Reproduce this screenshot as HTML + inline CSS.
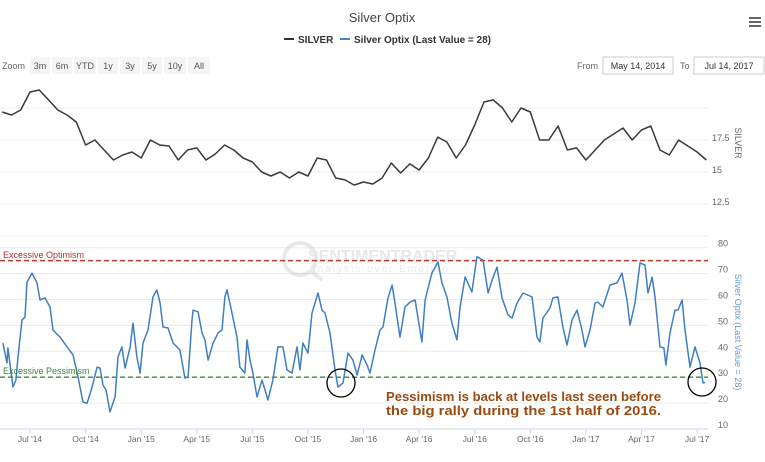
<!DOCTYPE html>
<html><head><meta charset="utf-8"><style>
body{margin:0;background:#fff;font-family:"Liberation Sans",sans-serif;}
svg text{font-family:"Liberation Sans",sans-serif;}
</style></head><body>
<svg id="chart" width="765" height="457" viewBox="0 0 765 457">
<text x="382" y="22" text-anchor="middle" font-size="13" fill="#444">Silver Optix</text>
<g><rect x="749" y="17" width="12" height="2" fill="#666"/><rect x="749" y="21" width="12" height="2" fill="#666"/><rect x="749" y="25" width="12" height="2" fill="#666"/></g>
<g><line x1="284" y1="39" x2="294" y2="39" stroke="#333" stroke-width="2"/><text x="298" y="43" font-size="10" font-weight="bold" fill="#333">SILVER</text></g>
<g><line x1="340" y1="39" x2="350" y2="39" stroke="#4a86c5" stroke-width="2"/><text x="354" y="43" font-size="10" font-weight="bold" fill="#333">Silver Optix (Last Value = 28)</text></g>
<text x="2" y="69" font-size="9" fill="#666">Zoom</text>
<g id="zoombtns"></g>
<text x="577" y="69" font-size="9" fill="#666">From</text>
<rect x="603" y="57" width="70" height="17" fill="#fff" stroke="#ccc"/>
<text x="638" y="69" font-size="9" text-anchor="middle" fill="#333">May 14, 2014</text>
<text x="680" y="69" font-size="9" fill="#666">To</text>
<rect x="694" y="57" width="70" height="17" fill="#fff" stroke="#ccc"/>
<text x="729" y="69" font-size="9" text-anchor="middle" fill="#333">Jul 14, 2017</text>
<g id="grid"></g>
<g opacity="0.22">
<circle cx="300" cy="259" r="16" fill="none" stroke="#999" stroke-width="4"/>
<line x1="311" y1="271" x2="322" y2="280" stroke="#999" stroke-width="4"/>
<text x="308" y="261" font-size="16" fill="#999" font-weight="bold">SENTIMENTRADER</text>
<text x="309" y="272" font-size="10" fill="#999" letter-spacing="2">Analysis over Emotion</text>
</g>
<g id="series"></g>
<text x="3" y="258" font-size="9" fill="#b03030">Excessive Optimism</text>
<text x="3" y="374" font-size="9" fill="#3a8a3a">Excessive Pessimism</text>
<circle cx="341" cy="383" r="14" fill="none" stroke="#000" stroke-width="1.3"/>
<circle cx="702" cy="382" r="14" fill="none" stroke="#000" stroke-width="1.3"/>
<g font-size="13" font-weight="bold" fill="#9a4a10">
<text x="386" y="401" textLength="275" lengthAdjust="spacingAndGlyphs">Pessimism is back at levels last seen before</text>
<text x="386" y="415" textLength="275" lengthAdjust="spacingAndGlyphs">the big rally during the 1st half of 2016.</text>
</g>
<text transform="translate(735,143) rotate(90)" text-anchor="middle" font-size="9" fill="#666">SILVER</text>
<text transform="translate(735,332) rotate(90)" text-anchor="middle" font-size="9" fill="#6a9acb">Silver Optix (Last Value = 28)</text>
</svg>
<script>
// Silver price, half-month steps starting 1.5 months before Jul 2014
const silverStartMonth = -1.5;
const silverStep = 0.5;
const silverValues = [19.69,19.45,19.84,21.25,21.41,20.63,19.84,19.45,18.91,17.11,17.5,16.72,15.94,16.33,16.56,16.09,17.5,17.11,17.03,15.94,16.72,16.88,15.94,16.41,17.11,16.72,16.09,15.78,15.0,14.69,15.0,14.53,15.0,14.69,16.09,15.94,14.53,14.38,13.98,14.22,14.06,14.53,15.7,14.92,15.63,15.16,16.09,17.73,17.34,16.09,17.11,18.67,20.47,20.63,20.0,18.91,20.0,19.69,17.5,17.5,18.59,16.72,16.88,15.94,16.72,17.5,17.97,18.44,17.5,18.28,18.59,16.72,16.33,17.5,17.03,16.56,15.94];
// Optix: time in months since Jul 1 2014, values
const optixMonths = [-1.46,-1.24,-1.19,-0.92,-0.76,-0.65,-0.43,-0.27,-0.16,0.11,0.38,0.54,0.81,1.08,1.24,1.62,2.0,2.32,2.59,2.86,3.08,3.35,3.62,3.78,3.94,4.10,4.32,4.59,4.75,4.96,5.13,5.40,5.56,5.77,5.94,6.10,6.37,6.64,6.85,7.02,7.18,7.45,7.72,8.09,8.36,8.53,8.74,8.80,9.07,9.28,9.44,9.61,9.88,10.15,10.36,10.52,10.63,10.79,11.17,11.33,11.60,11.71,11.87,12.03,12.25,12.52,12.68,12.84,13.11,13.38,13.65,13.87,14.14,14.41,14.57,14.73,15.0,15.22,15.54,15.76,15.92,16.19,16.46,16.62,16.89,17.16,17.43,17.65,17.92,18.19,18.35,18.62,18.89,19.05,19.32,19.54,19.70,19.97,20.24,20.51,20.78,21.15,21.32,21.69,22.02,22.23,22.50,22.77,23.04,23.21,23.48,23.85,24.12,24.45,24.72,24.93,25.20,25.47,25.80,26.01,26.28,26.61,27.09,27.36,27.52,27.68,28.06,28.22,28.49,28.76,28.98,29.25,29.52,29.79,29.95,30.22,30.49,30.65,30.92,31.30,31.68,31.95,32.22,32.38,32.65,32.92,33.19,33.35,33.57,33.73,34.0,34.21,34.32,34.54,34.81,34.97,35.19,35.35,35.62,35.89,36.16,36.32,36.43];
const optixValues = [43.2,35.5,41.3,26.2,28.9,37.8,52.1,53.2,66.7,70.2,66.4,59.8,60.6,57.1,48.2,45.5,41.7,38.6,30.1,20.4,20.0,26.2,33.9,33.5,27.0,25.1,16.6,22.4,37.8,41.7,33.5,41.7,50.9,37.8,31.6,43.2,48.2,61.0,63.7,58.6,49.4,49.0,43.2,40.5,29.7,30.1,52.1,55.9,55.2,47.1,44.4,36.6,43.2,47.1,48.2,61.0,63.7,58.6,45.5,33.9,31.6,44.4,36.6,31.6,22.4,28.9,25.1,21.2,28.9,41.7,41.7,32.8,31.6,41.7,32.8,43.2,39.3,54.8,62.5,55.9,54.8,47.1,32.8,26.2,27.8,39.3,36.6,30.8,38.6,34.7,31.6,40.5,48.2,49.4,60.6,65.6,58.6,45.5,57.1,59.0,59.8,43.6,59.8,70.2,74.5,66.4,61.0,50.9,44.4,57.1,68.7,62.9,76.5,75.2,62.5,67.5,72.5,60.6,54.0,52.8,58.6,62.5,61.0,45.5,43.6,52.8,56.7,60.6,61.0,49.4,42.4,52.1,55.9,48.2,41.7,48.2,58.6,59.0,57.1,65.6,66.4,70.2,59.8,50.1,58.6,74.1,73.3,62.5,68.7,61.0,41.7,41.3,34.7,47.1,55.9,55.9,59.8,48.2,33.9,41.7,35.5,27.8,28];
const silverTicks = [12.5,15,17.5];
const silverGrid = [10,12.5,15,17.5,20];
const optixTicks = [10,20,30,40,50,60,70,80];
const xTickLabels = ["Jul '14","Oct '14","Jan '15","Apr '15","Jul '15","Oct '15","Jan '16","Apr '16","Jul '16","Oct '16","Jan '17","Apr '17","Jul '17"];
const xTickMonths = [0,3,6,9,12,15,18,21,24,27,30,33,36];
const optimismLevel = 75;
const pessimismLevel = 30;
const zoomLabels = ["3m","6m","YTD","1y","3y","5y","10y","All"];

const NS="http://www.w3.org/2000/svg";
const xS = m => 30 + m*18.53;
const ySil = v => 172 - (v-15)*12.8;
const yOpt = v => 429 - (v-10)*2.59;
function mk(tag, attrs, parent){const e=document.createElementNS(NS,tag);for(const k in attrs)e.setAttribute(k,attrs[k]);parent.appendChild(e);return e;}

const zb=document.getElementById('zoombtns');
let zx=30;
zoomLabels.forEach((l,i)=>{
  const w = l.length>2?22:20;
  const g=mk('g',{},zb);
  
  
  mk('rect',{x:zx,y:57,width:w,height:17,fill:'#f5f5f5'},g);
  const t=mk('text',{x:zx+w/2,y:69,'text-anchor':'middle','font-size':9,fill:'#555'},g);t.textContent=l;
  zx+=w+2;
});

const grid=document.getElementById('grid');
silverGrid.forEach(v=>{
  const l=mk('line',{x1:0,x2:708,y1:ySil(v),y2:ySil(v),stroke:'#ececec'},grid);
  
  
});
silverTicks.forEach(v=>{
  const t=mk('text',{x:712,y:ySil(v)+1,'font-size':9,fill:'#666'},grid);t.textContent=v;
  
  
});
optixTicks.forEach(v=>{
  if(v>10){const l=mk('line',{x1:0,x2:708,y1:yOpt(v),y2:yOpt(v),stroke:'#ececec'},grid);
  
  }
  const t=mk('text',{x:718,y:yOpt(v)-1,'font-size':9,fill:'#666'},grid);t.textContent=v;
  
  
});
const ax=mk('line',{x1:0,x2:708,y1:429,y2:429,stroke:'#ccd6eb'},grid);


xTickMonths.forEach((m,i)=>{
  mk('line',{x1:xS(m),x2:xS(m),y1:429,y2:434,stroke:'#ccd6eb'},grid);
  const t=mk('text',{x:xS(m),y:442,'text-anchor':'middle','font-size':8.5,fill:'#666'},grid);t.textContent=xTickLabels[i];
  
  
});

const ser=document.getElementById('series');
const ol=mk('line',{x1:0,x2:708,y1:yOpt(optimismLevel),y2:yOpt(optimismLevel),stroke:'#c0392b','stroke-width':1.5,'stroke-dasharray':'5,3'},ser);


const pl=mk('line',{x1:0,x2:708,y1:yOpt(pessimismLevel),y2:yOpt(pessimismLevel),stroke:'#3a8a3a','stroke-width':1.3,'stroke-dasharray':'5,3'},ser);



const sp=silverValues.map((v,i)=>xS(silverStartMonth+i*silverStep).toFixed(1)+','+ySil(v).toFixed(1)).join(' ');
const s1=mk('polyline',{points:sp,fill:'none',stroke:'#3a3a3a','stroke-width':1.5,'stroke-linejoin':'round'},ser);


const op=optixValues.map((v,i)=>xS(optixMonths[i]).toFixed(1)+','+yOpt(v).toFixed(1)).join(' ');
const s2=mk('polyline',{points:op,fill:'none',stroke:'#3f7fc1','stroke-width':1.5,'stroke-linejoin':'round'},ser);


</script>
</body></html>
